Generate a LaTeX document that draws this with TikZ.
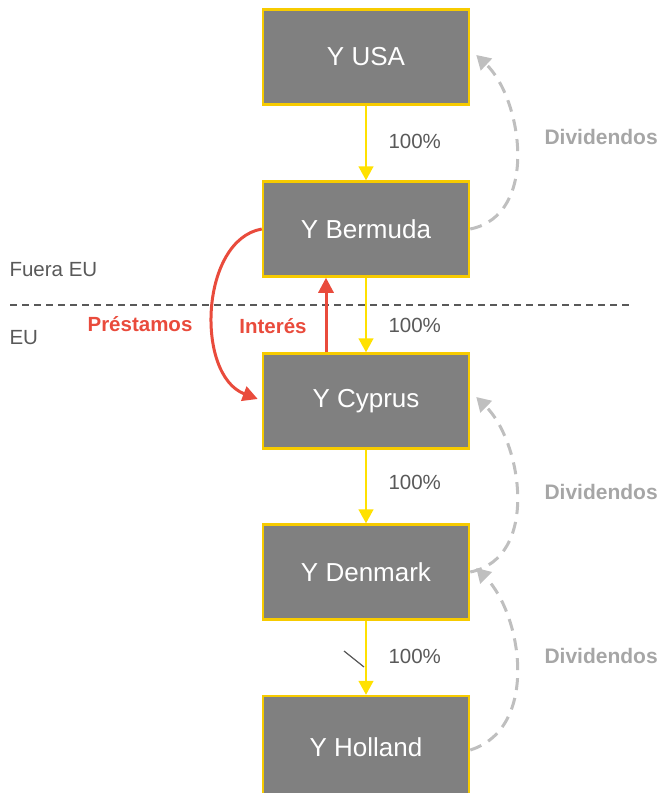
\documentclass[tikz,border=0pt]{standalone}
\usepackage{fontspec}
\setmainfont{Liberation Sans}
\usetikzlibrary{arrows.meta}
\definecolor{boxgray}{HTML}{808080}
\definecolor{boxedge}{HTML}{F7CB00}
\definecolor{flowyellow}{HTML}{FFE100}
\definecolor{labelgray}{HTML}{595959}
\definecolor{divgray}{HTML}{BFBFBF}
\definecolor{divtext}{HTML}{A6A6A6}
\definecolor{loanred}{HTML}{E94B3C}
\tikzset{
  entity/.style={draw=boxedge, line width=2.5pt, fill=boxgray,
    minimum width=206pt, minimum height=95pt, inner sep=0pt,
    text=white, font=\fontsize{26}{30}\selectfont},
  owns/.style={draw=flowyellow, line width=1.5pt,
    -{Triangle[width=15pt,length=14pt]}},
  pct/.style={text=labelgray, font=\fontsize{20.5}{24}\selectfont, anchor=west},
  divflow/.style={draw=divgray, line width=3pt, dash pattern=on 12pt off 8pt,
    -{Triangle[width=16pt,length=14pt]}},
  divlabel/.style={text=divtext, font=\bfseries\fontsize{21}{25}\selectfont, anchor=west},
  redflow/.style={draw=loanred, line width=3pt,
    -{Triangle[width=15pt,length=15pt]}},
  redlabel/.style={text=loanred, font=\bfseries\fontsize{20.5}{24}\selectfont},
  zone/.style={text=labelgray, font=\fontsize{20.5}{24}\selectfont, anchor=west}
}
\begin{document}
\begin{tikzpicture}[x=1pt,y=-1pt]
\useasboundingbox (0,0) rectangle (661,793);

% companies
\node[entity] (usa) at (366,57) {Y USA};
\node[entity] (bermuda) at (366,229) {Y Bermuda};
\node[entity] (cyprus) at (366,401) {Y Cyprus};
\node[entity] (denmark) at (366,572) {Y Denmark};
\node[entity, minimum height=102pt] (holland) at (366,747) {Y Holland};

% EU boundary
\draw[labelgray, line width=1.2pt, dash pattern=on 7pt off 5pt] (10,305) -- (630,305);
\node[zone] (fuera) at (6,270) {Fuera EU};
\node[zone] (eu) at (6,338) {EU};

% ownership chain
\draw[owns] (usa.south) -- (bermuda.north);
\draw[owns] (bermuda.south) -- (cyprus.north);
\draw[owns] (cyprus.south) -- (denmark.north);
\draw[owns] (denmark.south) -- (holland.north);
\node[pct] (p1) at (385,141) {100\%};
\node[pct] (p2) at (385,325) {100\%};
\node[pct] (p3) at (385,482) {100\%};
\node[pct] (p4) at (385,656) {100\%};

% stray tick next to the last ownership line
\coordinate (tickA) at (344,651);
\coordinate (tickB) at (364,667);
\draw[labelgray, line width=1.2pt] (tickA) -- (tickB);

% dividends
\draw[divflow] (bermuda.east) .. controls (540,215) and (522,98) .. ([xshift=6pt,yshift=2pt]usa.east);
\draw[divflow] (denmark.east) .. controls (540,558) and (522,442) .. ([xshift=6pt,yshift=4pt]cyprus.east);
\draw[divflow] ([yshift=-3pt]holland.east) .. controls (540,728) and (522,614) .. ([xshift=6pt,yshift=4pt]denmark.east);
\node[divlabel] (d1) at (541,137) {Dividendos};
\node[divlabel] (d2) at (541,492) {Dividendos};
\node[divlabel] (d3) at (541,656) {Dividendos};

% loans and interest
\draw[redflow] (bermuda.west) .. controls (200,240) and (195,375) .. ([xshift=-4pt,yshift=2pt]cyprus.west);
\node[redlabel] (loan) at (140,324) {Préstamos};
\draw[redflow] ([xshift=-40pt]cyprus.north) -- ([xshift=-40pt]bermuda.south);
\node[redlabel] (int) at (273,326) {Interés};
\end{tikzpicture}
\end{document}
